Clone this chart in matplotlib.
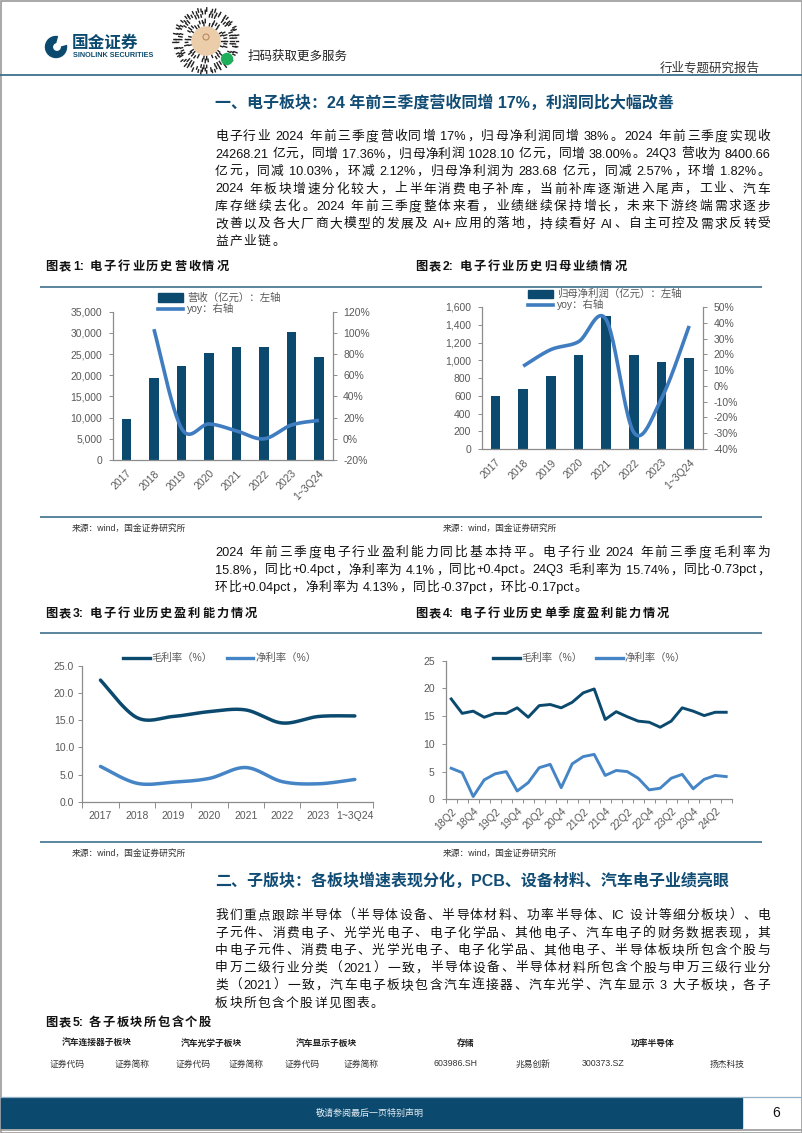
import re
import numpy as np
import matplotlib
matplotlib.use('Agg')
import matplotlib.pyplot as plt
from matplotlib.patches import Rectangle, Circle, Wedge

plt.rcParams['font.family'] = ['Liberation Sans', 'Noto Sans CJK SC', 'DejaVu Sans']
plt.rcParams['axes.unicode_minus'] = False

# ---------------- data ----------------
years = ['2017', '2018', '2019', '2020', '2021', '2022', '2023', '1~3Q24']
revenue = [9700, 19450, 22100, 25150, 26750, 26600, 30150, 24268]      # 亿元
revenue_yoy = [103.5, 10, 14, 7.5, 0, 13, 17.4]                          # % , from 2018
profit = [600, 674, 828, 1062, 1502, 1062, 975, 1028]                    # 亿元
profit_yoy = [12.5, 23, 28, 42, -29.5, -8, 38]                           # % , from 2018
gross_margin = [22.4, 15.5, 15.7, 16.6, 16.9, 14.5, 15.7, 15.8]
net_margin = [6.5, 3.4, 3.6, 4.3, 6.3, 3.7, 3.3, 4.1]

quarters = ['18Q2', '18Q3', '18Q4', '19Q1', '19Q2', '19Q3', '19Q4', '20Q1', '20Q2',
            '20Q3', '20Q4', '21Q1', '21Q2', '21Q3', '21Q4', '22Q1', '22Q2', '22Q3',
            '22Q4', '23Q1', '23Q2', '23Q3', '23Q4', '24Q1', '24Q2', '24Q3']
q_gross = [18.1, 15.5, 15.9, 14.8, 15.5, 15.5, 16.5, 14.8, 16.9, 17.1, 16.5, 17.5, 19.2,
           19.9, 14.4, 15.8, 14.9, 14.1, 13.9, 13.0, 14.1, 16.5, 15.9, 15.1, 15.7, 15.7]
q_net = [5.6, 4.8, 0.5, 3.5, 4.6, 5.0, 1.5, 3.0, 5.7, 6.3, 2.1, 6.4, 7.7,
         8.1, 4.3, 5.2, 5.0, 3.8, 1.7, 2.0, 3.8, 4.5, 1.9, 3.6, 4.3, 4.1]

para1 = ['电子行业 2024 年前三季度营收同增 17%，归母净利润同增 38%。2024 年前三季度实现收',
         '24268.21 亿元，同增 17.36%，归母净利润 1028.10 亿元，同增 38.00%。24Q3 营收为 8400.66',
         '亿元，同减 10.03%，环减 2.12%，归母净利润为 283.68 亿元，同减 2.57%，环增 1.82%。',
         '2024 年板块增速分化较大，上半年消费电子补库，当前补库逐渐进入尾声，工业、汽车',
         '库存继续去化。2024 年前三季度整体来看，业绩继续保持增长，未来下游终端需求逐步',
         '改善以及各大厂商大模型的发展及 AI+应用的落地，持续看好 AI、自主可控及需求反转受',
         '益产业链。']
para2 = ['2024 年前三季度电子行业盈利能力同比基本持平。电子行业 2024 年前三季度毛利率为',
         '15.8%，同比+0.4pct，净利率为 4.1%，同比+0.4pct。24Q3 毛利率为 15.74%，同比-0.73pct，',
         '环比+0.04pct，净利率为 4.13%，同比-0.37pct，环比-0.17pct。']
para3 = ['我们重点跟踪半导体（半导体设备、半导体材料、功率半导体、IC 设计等细分板块）、电',
         '子元件、消费电子、光学光电子、电子化学品、其他电子、汽车电子的财务数据表现，其',
         '中电子元件、消费电子、光学光电子、电子化学品、其他电子、半导体板块所包含个股与',
         '申万二级行业分类（2021）一致，半导体设备、半导体材料所包含个股与申万三级行业分',
         '类（2021）一致，汽车电子板块包含汽车连接器、汽车光学、汽车显示 3 大子板块，各子',
         '板块所包含个股详见图表。']

NAVY = '#0B4A6E'
BLUE = '#3F7DC0'
AXC = '#8C8C8C'
TXT = '#595959'
RULE = '#3E6F8E'

W, H = 802, 1133
fig = plt.figure(figsize=(W / 100, H / 100), dpi=100)
bg = fig.add_axes([0, 0, 1, 1])
bg.set_xlim(0, W)
bg.set_ylim(H, 0)
bg.axis('off')
renderer = fig.canvas.get_renderer()


def put_tokens(x0, y, s, size, x1=None, gap=0.0, **kw):
    parts = re.findall(r'[!-~]+| +|[^ !-~]', s)
    items, total, n = [], 0.0, 0
    for p in parts:
        if p.strip() == '':
            w = 0.32 * size * 100 / 72 * len(p)
            items.append((None, w))
            total += w
            continue
        t = bg.text(x0, y, p, fontsize=size, ha='left', va='center', **kw)
        w = t.get_window_extent(renderer).width
        items.append((t, w))
        total += w
        n += 1
    if x1 is not None and n > 1:
        gap = (x1 - x0 - total) / (n - 1)
    x = x0
    for t, w in items:
        if t is None:
            x += w
            continue
        t.set_x(x)
        x += w + gap
    return gap


def paragraph(lines, y0, step=17.5, size=9.2):
    g = 0.5
    for i, ln in enumerate(lines):
        last = i == len(lines) - 1
        g = put_tokens(215, y0 + i * step, ln, size, x1=None if last else 770,
                       gap=g, color='#111111')


def add_ax(l, t, r, b):
    return fig.add_axes([l / W, 1 - b / H, (r - l) / W, (b - t) / H])


def smooth(xs, ys, n=24):
    pts = np.column_stack([xs, ys]).astype(float)
    P = np.vstack([pts[0], pts, pts[-1]])
    out = []
    t = np.linspace(0, 1, n, endpoint=False)[:, None]
    for i in range(1, len(P) - 2):
        p0, p1, p2, p3 = P[i - 1], P[i], P[i + 1], P[i + 2]
        seg = 0.5 * (2 * p1 + (-p0 + p2) * t + (2 * p0 - 5 * p1 + 4 * p2 - p3) * t ** 2
                     + (-p0 + 3 * p1 - 3 * p2 + p3) * t ** 3)
        out.append(seg)
    out.append(pts[-1][None])
    out = np.vstack(out)
    return out[:, 0], out[:, 1]


def style(ax, pad=4.5):
    ax.set_facecolor('none')
    for s in ['top', 'right']:
        ax.spines[s].set_visible(False)
    for s in ['left', 'bottom']:
        ax.spines[s].set_color(AXC)
        ax.spines[s].set_linewidth(0.9)
    ax.tick_params(colors=AXC, labelcolor=TXT, labelsize=7.5, length=3, width=0.7, pad=pad)


def right_axis(ax):
    axr = ax.twinx()
    axr.set_facecolor('none')
    for s in ['top', 'left', 'bottom']:
        axr.spines[s].set_visible(False)
    axr.spines['right'].set_color(AXC)
    axr.spines['right'].set_linewidth(0.9)
    axr.tick_params(colors=AXC, labelcolor=TXT, labelsize=7.5, length=3, width=0.7, pad=4.5)
    return axr


def rule(y, x0=40, x1=762):
    bg.plot([x0, x1], [y, y], color=RULE, lw=1.2, solid_capstyle='butt')


def source(x, y):
    bg.text(x, y, '来源：wind，国金证券研究所', fontsize=6.3, color='#333333', va='center')


# ---------------- page frame / header ----------------
bg.add_patch(Rectangle((0.5, 0.5), W - 1, H - 1, fill=False, ec='#9A9A9A', lw=1.2))
bg.plot([0, W], [75, 75], color=RULE, lw=1.3)

# logo
bg.add_patch(Circle((56, 47), 10.5, color=NAVY))
bg.add_patch(Wedge((56, 47), 11.5, -75, -15, color='white'))
bg.add_patch(Circle((57, 47), 3.2, color='white'))
bg.text(72, 43, '国金证券', fontsize=12, fontweight='bold', color=NAVY, va='center')
bg.text(73, 55.5, 'SINOLINK SECURITIES', fontsize=5.2, fontweight='bold', color=NAVY, va='center')

# mini-program code
cx, cy = 206, 41
for k, r in enumerate([16.5, 19.5, 22.5, 25.5, 28.5, 31]):
    m = int(2 * np.pi * r / 2.8)
    for j in range(m):
        if (j * (k + 3) + k * 7) % 5 < 3:
            a = 2 * np.pi * j / m
            l0, l1 = r - 1.2, r + 1.2 + ((j + k) % 3 == 0) * 1.0
            bg.plot([cx + l0 * np.cos(a), cx + l1 * np.cos(a)],
                    [cy + l0 * np.sin(a), cy + l1 * np.sin(a)], color='#222222', lw=1.0)
bg.add_patch(Circle((cx, cy), 14, color='#EBCDAA', zorder=3))
bg.add_patch(Circle((cx, cy - 4), 3, fill=False, ec='#B98A5E', lw=0.8, zorder=4))
bg.add_patch(Circle((cx + 21, cy + 18), 5.5, color='#1FAF5A', zorder=4))
bg.text(248, 57, '扫码获取更多服务', fontsize=9, color='#222222', va='center')
bg.text(760, 68, '行业专题研究报告', fontsize=9, color='#333333', va='center', ha='right')

# ---------------- section 1 ----------------
bg.text(215, 103, '一、电子板块：24 年前三季度营收同增 17%，利润同比大幅改善',
        fontsize=11.5, fontweight='bold', color='#104C74', va='center')
paragraph(para1, 137)

put_tokens(45, 267, '图表1: 电子行业历史营收情况', 8.8, gap=1.8, fontweight='bold', color='#111111')
put_tokens(415, 267, '图表2: 电子行业历史归母业绩情况', 8.8, gap=1.8, fontweight='bold', color='#111111')
rule(287)

x = np.arange(len(years))

# chart 1
ax1 = add_ax(112.7, 311.7, 332.7, 460)
style(ax1)
ax1.bar(x, revenue, width=0.36, color=NAVY, zorder=2)
ax1.set_xlim(-0.5, len(years) - 0.5)
ax1.set_ylim(0, 35000)
ax1.set_yticks(np.arange(0, 35001, 5000))
ax1.set_yticklabels([f'{v:,}' for v in range(0, 35001, 5000)])
ax1.set_xticks(x)
ax1.set_xticklabels(years, rotation=45, ha='right', va='top', rotation_mode='anchor')
ax1.tick_params(axis='x', length=0, pad=6)
ax1r = right_axis(ax1)
ax1r.set_ylim(-20, 120)
ax1r.set_yticks(np.arange(-20, 121, 20))
ax1r.set_yticklabels([f'{v}%' for v in range(-20, 121, 20)])
sx, sy = smooth(x[1:], revenue_yoy)
ax1r.plot(sx, sy, color=BLUE, lw=2.6, solid_capstyle='butt', zorder=3)

bg.add_patch(Rectangle((158, 293), 25, 9, color=NAVY))
bg.text(187, 297.5, '营收（亿元）：左轴', fontsize=7.5, color=TXT, va='center')
bg.plot([158, 183], [308.5, 308.5], color=BLUE, lw=2.6)
bg.text(187, 308.5, 'yoy：右轴', fontsize=7.5, color=TXT, va='center')

# chart 2
ax2 = add_ax(481.7, 307, 703, 449)
style(ax2)
ax2.bar(x, profit, width=0.34, color=NAVY, zorder=2)
ax2.set_xlim(-0.5, len(years) - 0.5)
ax2.set_ylim(0, 1600)
ax2.set_yticks(np.arange(0, 1601, 200))
ax2.set_yticklabels([f'{v:,}' for v in range(0, 1601, 200)])
ax2.set_xticks(x)
ax2.set_xticklabels(years, rotation=45, ha='right', va='top', rotation_mode='anchor')
ax2.tick_params(axis='x', length=0, pad=6)
ax2r = right_axis(ax2)
ax2r.set_ylim(-40, 50)
ax2r.set_yticks(np.arange(-40, 51, 10))
ax2r.set_yticklabels([f'{v}%' for v in range(-40, 51, 10)])
sx, sy = smooth(x[1:], profit_yoy)
ax2r.plot(sx, sy, color=BLUE, lw=2.6, solid_capstyle='butt', zorder=3)

bg.add_patch(Rectangle((528, 290), 25, 8, color=NAVY))
bg.text(557, 294, '归母净利润（亿元）：左轴', fontsize=7.5, color=TXT, va='center')
bg.plot([528, 553], [305, 305], color=BLUE, lw=2.6)
bg.text(557, 305, 'yoy：右轴', fontsize=7.5, color=TXT, va='center')

rule(517)
source(72, 528)
source(443, 528)

paragraph(para2, 553)

put_tokens(45, 614, '图表3: 电子行业历史盈利能力情况', 8.8, gap=1.8, fontweight='bold', color='#111111')
put_tokens(415, 614, '图表4: 电子行业历史单季度盈利能力情况', 8.8, gap=1.8, fontweight='bold', color='#111111')
rule(633)

# chart 3
ax3 = add_ax(82.3, 666, 373, 801.7)
style(ax3, pad=3)
sx, sy = smooth(x, gross_margin)
ax3.plot(sx, sy, color=NAVY, lw=2.5, solid_capstyle='round')
sx, sy = smooth(x, net_margin)
ax3.plot(sx, sy, color='#4585C6', lw=2.5, solid_capstyle='round')
ax3.set_xlim(-0.5, len(years) - 0.5)
ax3.set_ylim(0, 25)
ax3.set_yticks(np.arange(0, 26, 5))
ax3.set_yticklabels([f'{v:.1f}' for v in range(0, 26, 5)])
ax3.set_xticks(x)
ax3.set_xticklabels(years)
ax3.set_xticks(np.arange(-0.5, len(years)), minor=True)
ax3.tick_params(axis='x', which='major', length=0, pad=7)
ax3.tick_params(axis='x', which='minor', length=4, width=0.7, color=AXC)

bg.plot([122.7, 150], [658, 658], color=NAVY, lw=2.4)
bg.text(151.5, 658, '毛利率（%）', fontsize=7.5, color=TXT, va='center')
bg.plot([226.7, 253.3], [658, 658], color='#4585C6', lw=2.4)
bg.text(255, 658, '净利率（%）', fontsize=7.5, color=TXT, va='center')

# chart 4
xq = np.arange(len(quarters))
ax4 = add_ax(445.7, 660.7, 731.7, 799.3)
style(ax4, pad=5)
ax4.plot(xq, q_gross, color=NAVY, lw=2.1)
ax4.plot(xq, q_net, color='#4585C6', lw=2.1)
ax4.set_xlim(-0.5, len(quarters) - 0.5)
ax4.set_ylim(0, 25)
ax4.set_yticks(np.arange(0, 26, 5))
ax4.set_xticks(xq[::2])
ax4.set_xticklabels(quarters[::2], rotation=45, ha='right', va='top', rotation_mode='anchor')
ax4.set_xticks(np.arange(-0.5, len(quarters)), minor=True)
ax4.tick_params(axis='x', which='major', length=0, pad=5)
ax4.tick_params(axis='x', which='minor', length=3, width=0.7, color=AXC)

bg.plot([492.7, 520], [657.7, 657.7], color=NAVY, lw=2.4)
bg.text(521.5, 657.7, '毛利率（%）', fontsize=7.5, color=TXT, va='center')
bg.plot([596, 623], [657.7, 657.7], color='#4585C6', lw=2.4)
bg.text(624.5, 657.7, '净利率（%）', fontsize=7.5, color=TXT, va='center')

rule(842)
source(72, 853)
source(443, 853)

# ---------------- section 2 ----------------
bg.text(215, 881, '二、子版块：各板块增速表现分化，PCB、设备材料、汽车电子业绩亮眼',
        fontsize=11.5, fontweight='bold', color='#104C74', va='center')
paragraph(para3, 916)

put_tokens(45, 1023, '图表5: 各子板块所包含个股', 8.8, gap=1.5, fontweight='bold', color='#111111')
for label, cxh in [('汽车连接器子板块', 97), ('汽车光学子板块', 211), ('汽车显示子板块', 326),
                   ('存储', 466), ('功率半导体', 653)]:
    bg.text(cxh, 1043, label, fontsize=6.3, fontweight='bold', color='#222222', ha='center', va='center')
for label, cxr in [('证券代码', 67), ('证券简称', 132), ('证券代码', 193), ('证券简称', 246),
                   ('证券代码', 302), ('证券简称', 361), ('603986.SH', 455), ('兆易创新', 533),
                   ('300373.SZ', 603), ('扬杰科技', 727)]:
    bg.text(cxr, 1064, label, fontsize=6.3, color='#333333', ha='center', va='center')

# ---------------- footer ----------------
bg.plot([0, W], [1096.5, 1096.5], color='#8FAFC4', lw=0.9)
bg.add_patch(Rectangle((1, 1098), 741, 30, color=NAVY))
bg.text(370, 1113, '敬请参阅最后一页特别声明', fontsize=6.5, color='#E3ECF3', ha='center', va='center')
bg.text(776, 1113, '6', fontsize=10, color='#111111', ha='center', va='center')
bg.plot([0, W], [1130, 1130], color='#9A9A9A', lw=1.2)

fig.savefig('out.png', dpi=100)
